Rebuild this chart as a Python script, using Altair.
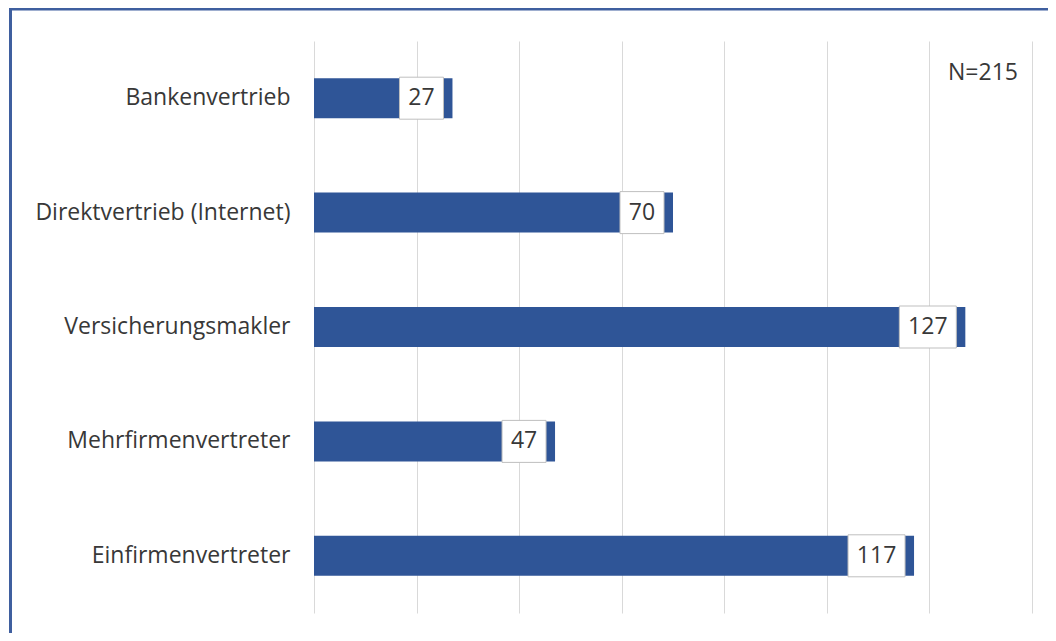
import altair as alt
import pandas as pd

categories = ["Bankenvertrieb", "Direktvertrieb (Internet)", "Versicherungsmakler",
              "Mehrfirmenvertreter", "Einfirmenvertreter"]
values = [27, 70, 127, 47, 117]
x_ticks = [0, 20, 40, 60, 80, 100, 120, 140]
note = "N=215"

df = pd.DataFrame({"kat": categories, "wert": values})

W, H = 718, 572
FONT = "Open Sans"
BLUE = "#2f5597"
TXT = "#383838"

x_scale = alt.Scale(domain=[0, 140], nice=False, zero=True)
y_enc = alt.Y("kat:N", sort=categories,
              scale=alt.Scale(paddingInner=0.65, paddingOuter=0.325),
              axis=alt.Axis(title=None, domain=False, ticks=False, labelPadding=24,
                            labelFont=FONT, labelFontSize=23, labelColor=TXT,
                            labelLimit=300))

base = alt.Chart(df)

bars = base.mark_bar(color=BLUE, size=40).encode(
    x=alt.X("wert:Q", scale=x_scale,
            axis=alt.Axis(title=None, values=x_ticks, labels=False, ticks=False,
                          domain=False, grid=True, gridColor="#d9d9d9", gridWidth=1)),
    y=y_enc,
)

box_small = base.transform_filter("datum.wert < 100").mark_bar(
    color="white", stroke="#bfbfbf", strokeWidth=1, size=42, xOffset=-53, x2Offset=-9
).encode(x=alt.X("wert:Q", scale=x_scale), x2="wert:Q", y=y_enc)

box_big = base.transform_filter("datum.wert >= 100").mark_bar(
    color="white", stroke="#bfbfbf", strokeWidth=1, size=42, xOffset=-66, x2Offset=-9
).encode(x=alt.X("wert:Q", scale=x_scale), x2="wert:Q", y=y_enc)

txt_small = base.transform_filter("datum.wert < 100").mark_text(
    font=FONT, fontSize=23, color=TXT, align="center", baseline="middle", dx=-31
).encode(x=alt.X("wert:Q", scale=x_scale), y=y_enc, text="wert:Q")

txt_big = base.transform_filter("datum.wert >= 100").mark_text(
    font=FONT, fontSize=23, color=TXT, align="center", baseline="middle", dx=-37.5
).encode(x=alt.X("wert:Q", scale=x_scale), y=y_enc, text="wert:Q")

note_mark = alt.Chart(pd.DataFrame({"t": [note]})).mark_text(
    font=FONT, fontSize=23, color=TXT, align="center", baseline="middle"
).encode(x=alt.value(669), y=alt.value(32), text="t:N")

frame_top = alt.Chart(pd.DataFrame({"a": [0]})).mark_rule(
    color="#3f5f9f", strokeWidth=3, clip=False
).encode(x=alt.value(-305), x2=alt.value(740), y=alt.value(-32))

frame_left = alt.Chart(pd.DataFrame({"a": [0]})).mark_rule(
    color="#3f5f9f", strokeWidth=3, clip=False
).encode(x=alt.value(-303.5), y=alt.value(-33), y2=alt.value(600))

chart = alt.layer(bars, box_small, box_big, txt_small, txt_big, note_mark,
                  frame_top, frame_left).properties(
    width=W, height=H,
    autosize=alt.AutoSizeParams(type="none"),
    padding={"left": 306, "top": 33, "right": 16, "bottom": 20},
    background="white",
).configure_view(stroke=None)

chart.save("out.html", embed_options={"renderer": "svg", "actions": False})
